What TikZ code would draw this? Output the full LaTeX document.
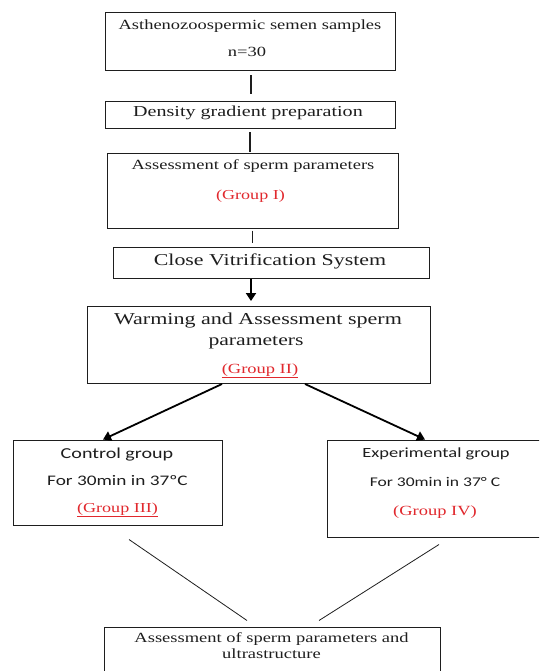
\documentclass[tikz,border=0pt]{standalone}
\usepackage{fontspec}
\setmainfont[FakeStretch=1.32]{Liberation Serif}
\newfontfamily\calib[FakeStretch=1.32]{Carlito}
\usetikzlibrary{arrows.meta}
\definecolor{grpred}{RGB}{225,40,45}
\definecolor{ink}{RGB}{30,30,30}
\newcommand{\fsz}[1]{\fontsize{#1}{#1}\selectfont}

\begin{document}
\begin{tikzpicture}[x=1pt, y=-1pt,
        box/.style = {draw=ink, line width=1pt, inner sep=0pt},
        txt/.style = {anchor=base, inner sep=0pt, text=ink, font=\fsz{14}},
        grp/.style = {txt, text=grpred},
        link/.style = {draw=ink, line width=1.3pt},
        thinlink/.style = {draw=ink, line width=0.8pt},
        flow/.style = {-{Triangle[width=10pt,length=8pt]}, line width=1.8pt}]
    \useasboundingbox (0,0) rectangle (539,671);
    \clip (0,0) rectangle (539,671);
    \fill[white] (0,0) rectangle (539,671);
    % boxes
    \node[box, minimum width=290pt, minimum height=58pt] (smp) at (250,42) {};
    \node[box, minimum width=290pt, minimum height=27pt] (dgp) at (250,115.5) {};
    \node[box, minimum width=291pt, minimum height=74pt] (asm) at (252.5,191) {};
    \node[box, minimum width=316pt, minimum height=31pt] (cvs) at (271,262.5) {};
    \node[box, minimum width=343pt, minimum height=77pt] (warm) at (258.5,345) {};
    \node[box, minimum width=209pt, minimum height=85pt] (ctrl) at (117.5,482.5) {};
    \node[box, minimum width=218pt, minimum height=97pt] (expt) at (436,488.5) {};
    \node[box, minimum width=336pt, minimum height=66pt] (res) at (272,660) {};
    % texts
    \node[txt] (smpA) at (250,29.5) {Asthenozoospermic semen samples};
    \node[txt] (smpB) at (247,56.7) {n=30};
    \node[txt, font=\fsz{15.2}] (dgpA) at (248,117) {Density gradient preparation};
    \node[txt] (asmA) at (253,170) {Assessment of sperm parameters};
    \node[grp, font=\fsz{13.7}] (asmB) at (250.5,199.3) {(Group I)};
    \node[txt, font=\fsz{16.6}] (cvsA) at (270,265) {Close Vitrification System};
    \node[txt, font=\fsz{16.7}] (warmA) at (258,324) {Warming and Assessment sperm};
    \node[txt, font=\fsz{16.4}] (warmB) at (256,345) {parameters};
    \node[grp] (warmC) at (260,373) {\underline{(Group II)}};
    \node[txt, font=\calib\fsz{15.2}] (ctrlA) at (117,458) {Control group};
    \node[txt, font=\calib\fsz{14.6}] (ctrlB) at (117.5,485) {For 30min in 37ºC};
    \node[grp, font=\fsz{13.7}] (ctrlC) at (117.5,512) {\underline{(Group III)}};
    \node[txt, font=\calib\fsz{14}] (exptA) at (436,457) {Experimental group};
    \node[txt, font=\calib\fsz{13.3}] (exptB) at (435,486) {For 30min in 37° C};
    \node[grp] (exptC) at (435,515) {(Group IV)};
    \node[txt] (resA) at (271.5,642) {Assessment of sperm parameters and};
    \node[txt] (resB) at (271.5,658) {ultrastructure};
    % connectors
    \draw[link, shorten <=4pt, shorten >=7pt] ([xshift=1pt]smp.south) -- ([xshift=1pt]dgp.north);
    \draw[link, shorten <=3pt, shorten >=1pt] (dgp.south) -- ([xshift=-2.5pt]asm.north);
    \draw[link, shorten <=2pt, shorten >=4pt] (asm.south) -- (asm.south |- cvs.north);
    \draw[flow, shorten >=5pt] ([xshift=-20pt]cvs.south) -- ([xshift=-7.5pt]warm.north);
    \draw[flow] ([xshift=-36.5pt]warm.south) -- ([xshift=-14.5pt]ctrl.north);
    \draw[flow] ([xshift=46.5pt]warm.south) -- ([xshift=-11pt]expt.north);
    \draw[thinlink] ([shift={(11.5,14)}]ctrl.south) -- ([shift={(-25,-6)}]res.north);
    \draw[thinlink] ([shift={(3,7)}]expt.south) -- ([shift={(47,-6)}]res.north);
\end{tikzpicture}
\end{document}
